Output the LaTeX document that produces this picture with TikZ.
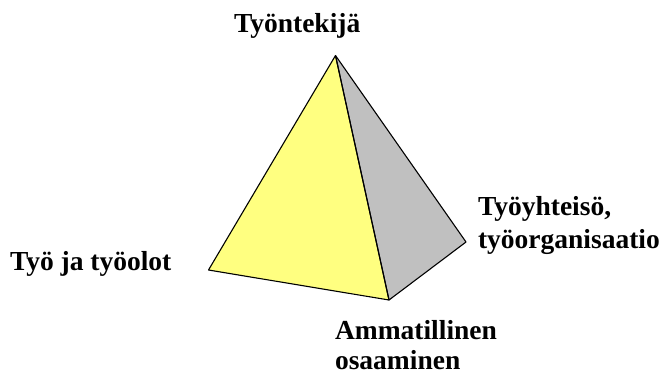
\documentclass[tikz,border=0pt]{standalone}
\usepackage{fontspec}
\setmainfont{Liberation Serif}
\begin{document}
\begin{tikzpicture}[x=1pt,y=-1pt,
  lbl/.style={anchor=base west,inner sep=0pt,outer sep=0pt,font=\fontsize{27.5}{33}\selectfont\bfseries},
  face/.style={draw=black,line width=1.1pt,line join=round}]
\useasboundingbox (0,0) rectangle (662,376);
\coordinate (A) at (335.5,55.5);
\coordinate (L) at (208.5,270);
\coordinate (B) at (389,300);
\coordinate (R) at (466,242);
\fill[fill={rgb,255:red,255;green,255;blue,128}] (A) -- (L) -- (B) -- cycle;
\fill[fill={rgb,255:red,192;green,192;blue,192}] (A) -- (B) -- (R) -- cycle;
\draw[face] (A) -- (L) -- (B) -- cycle;
\draw[face] (A) -- (B) -- (R) -- cycle;
\node[lbl] (top) at (234,32) {Työntekijä};
\node[lbl] (left) at (10,270) {Työ ja työolot};
\node[lbl] (right1) at (478,215) {Työyhteisö,};
\node[lbl] (right2) at (478,248) {työorganisaatio};
\node[lbl] (bot1) at (335,339) {Ammatillinen};
\node[lbl] (bot2) at (335,369.5) {osaaminen};
\end{tikzpicture}
\end{document}
